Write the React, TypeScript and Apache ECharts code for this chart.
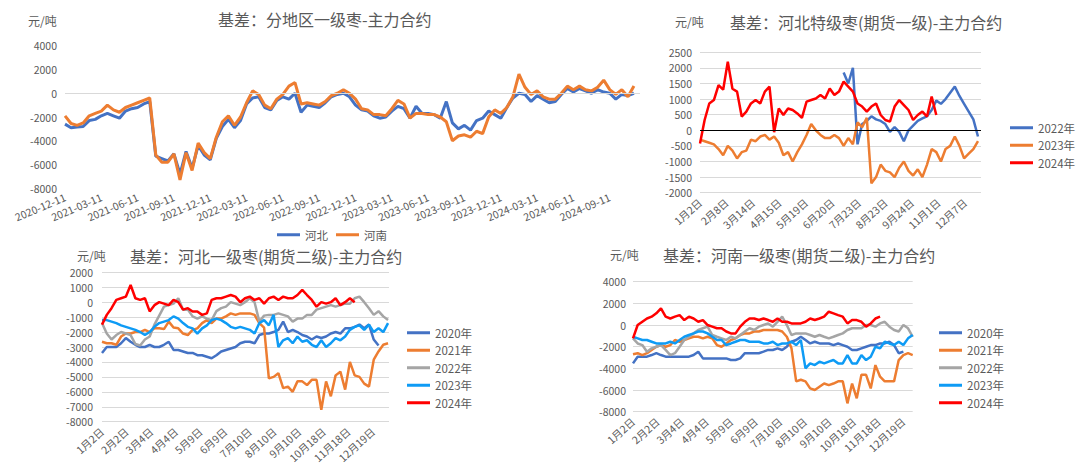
import React, { useEffect, useRef } from 'react';
import * as echarts from 'echarts';

const FONT = '"Noto Sans CJK SC", "Noto Sans", sans-serif';
const TXT = '#595959';
const GRID_C = '#D9D9D9';
const BLUE = '#4472C4';
const ORANGE = '#ED7D31';
const GRAY = '#A5A5A5';
const LBLUE = '#0E9BF5';
const RED = '#FF0000';

// ---------- Chart 1: 基差：分地区一级枣-主力合约 (half-month samples) ----------
const C1_TICKS = ['2020-12-11', '2021-03-11', '2021-06-11', '2021-09-11', '2021-12-11', '2022-03-11', '2022-06-11', '2022-09-11', '2022-12-11', '2023-03-11', '2023-06-11', '2023-09-11', '2023-12-11', '2024-03-11', '2024-06-11', '2024-09-11'];
const C1_HEBEI = [
  -2600, -2900, -2850, -2800, -2300, -2200, -1900, -1700, -1900, -2100,
  -1500, -1300, -1200, -900, -700, -5300, -5500, -5700, -5100, -6800,
  -4900, -6300, -4400, -5200, -5600, -3800, -2800, -2200, -2900, -2300,
  -900, -400, -300, -1200, -1400, -600, -300, -500, 0, -1600,
  -1000, -1100, -1200, -800, -300, -100, 0, -300, -1000, -1400,
  -1500, -1900, -2100, -2000, -1500, -1100, -1300, -2100, -1100, -1700,
  -1700, -1800, -2100, -700, -2500, -3000, -2700, -3100, -2300, -2100,
  -1500, -1800, -2100, -1200, -400, 0, -100, -700, -200, -500,
  -800, -700, -100, 400, 100, 400, 200, 0, 300, 100,
  0, -500, -100, -200, 0,
];
const C1_HENAN = [
  -1900, -2550, -2700, -2500, -1900, -1700, -1500, -1000, -1400, -1600,
  -1200, -1000, -800, -600, -400, -5200, -5800, -5800, -5100, -7300,
  -5000, -6500, -4200, -5000, -5500, -3700, -2400, -1900, -2700, -2000,
  -800, 200, -100, -1000, -1300, -500, -100, 600, 900, -900,
  -800, -900, -1000, -700, -200, 0, 300, 0, -500, -1300,
  -1400, -1800, -1800, -1900, -1300, -600, -900, -2100, -1700, -1700,
  -1800, -1800, -2000, -2400, -4000, -3600, -3500, -3700, -3200, -3400,
  -2000, -1400, -1700, -1200, -300, 1600, 500, -100, 200, -300,
  -500, -500, 0, 600, 300, 600, 300, 200, 500, 1100,
  300, -100, 300, -300, 600,
];

// ---------- Chart 2: 河北特级枣(期货一级) (one sample per ~4 trading days) ----------
const C2_TICKS = ['1月2日', '2月8日', '3月14日', '4月15日', '5月19日', '6月20日', '7月23日', '8月23日', '9月24日', '11月1日', '12月7日'];
const C2_2022_START = 31;
const C2_2022 = [1850, 1500, 2000, -450, 200, 300, 450, 350, 300, 200, -50, 100, -50, -350, 0, 150, 300, 380, 450, 650, 950, 850, 1000, 1200, 1400, 1100, 850, 600, 350, -200];
const C2_2023 = [
  -300, -350, -400, -450, -600, -800, -500, -650, -900, -700,
  -650, -300, -350, -200, -150, -300, -200, -400, -800, -700,
  -1000, -700, -450, -150, 200, 0, -150, -250, -250, -150,
  -250, -500, -250, -450, 250, 100, 400, -1700, -1500, -1100,
  -1300, -1350, -1500, -1200, -1000, -1300, -1450, -1250, -1500, -1100,
  -600, -700, -1000, -600, -500, -200, -500, -900, -750, -600,
  -350,
];
const C2_2024 = [
  -420, 330, 860, 970, 1450, 1300, 2200, 1330, 1240, 440,
  600, 860, 970, 860, 1240, 1400, -60, 700, 490, 700,
  650, 540, 400, 920, 970, 1020, 1130, 1020, 1340, 1130,
  1240, 1560, 1400, 1240, 860, 760, 600, 760, 860, 490,
  330, 280, 760, 970, 810, 650, 330, 490, 600, 440,
  1080, 490,
];

// ---------- Chart 3 / 4 shared tick labels ----------
const C34_TICKS = ['1月2日', '2月2日', '3月4日', '4月4日', '5月9日', '6月9日', '7月10日', '8月10日', '9月10日', '10月18日', '11月18日', '12月19日'];

// ---------- Chart 3: 河北一级枣(期货二级) ----------
const C3_2020 = [
  -3400, -3000, -3000, -3000, -2750, -2400, -2650, -2850, -3000, -3000,
  -2850, -3000, -3000, -2850, -2650, -3200, -3200, -3300, -3400, -3400,
  -3550, -3550, -3650, -3750, -3550, -3300, -3200, -3100, -3000, -2750,
  -2650, -2650, -2750, -2200, -2100, -2100, -2000, -1850, -1300, -2000,
  -1850, -2000, -2200, -2300, -2500, -2300, -2400, -2300, -2100, -2000,
  -2100, -1750, -1750, -1650, -1500, -1750, -1500, -2500, -2900,
];
const C3_2021 = [
  -2650, -2750, -2750, -2850, -2300, -2100, -2100, -2000, -2000, -1850,
  -2000, -1750, -1750, -1800, -1300, -1700, -1750, -2100, -2200, -1850,
  -1750, -1400, -1200, -1400, -1100, -1100, -950, -750, -850, -750,
  -750, -750, -850, -1400, -1700, -5100, -5000, -4750, -5750, -5650,
  -6000, -5300, -5300, -5550, -5200, -5200, -7200, -5300, -6300, -4900,
  -4650, -5850, -4000, -4900, -5000, -5450, -5650, -3850, -3300, -2850,
  -2750,
];
const C3_2022 = [
  -1400, -2100, -2500, -2200, -2000, -2100, -2200, -2800, -2900, -2500,
  -2300, -1500, -900, -300, -200, -100, 260, -500, -500, -950,
  -1100, -950, -1100, -1200, -600, -400, -300, 0, -100, -200,
  0, 260, 0, -1300, -900, -850, -850, -750, -850, -950,
  -1300, -1100, -1100, -850, -850, -500, -400, -300, -200, -300,
  -200, -100, -100, 260, 370, 0, -400, -850, -600, -950,
  -1200,
];
const C3_2023 = [
  -1200, -1200, -1300, -1400, -1550, -1650, -1750, -1850, -2000, -2200,
  -2000, -1650, -1400, -1300, -1200, -950, -1100, -1400, -1650, -1750,
  -2100, -1750, -1550, -1200, -1100, -1200, -1400, -1650, -1750, -1650,
  -1750, -1850, -2100, -1400, -1200, -1550, -850, -3000, -2550, -2400,
  -2750, -2300, -2650, -2550, -2850, -3000, -2550, -3000, -2750, -2400,
  -2550, -2300, -1850, -1650, -1550, -1850, -1500, -2000, -1750, -2000,
  -1400,
];
const C3_2024 = [
  -1500, -850, -400, 150, 260, 370, 1150, 260, 150, 260,
  -620, -200, 0, -100, -200, 150, 0, -500, -400, -620,
  -620, -850, -750, 150, 260, 260, 370, 480, 370, 0,
  260, 370, 150, 260, -100, 260, 370, 150, 370, 260,
  260, 480, 820, 480, 150, -300, 0, -100, 0, 260,
  -200, 0, 260, 0,
];

// ---------- Chart 4: 河南一级枣(期货二级) ----------
const C4_2020 = [
  -3540, -2920, -2920, -2920, -2770, -2600, -2770, -2920, -2920, -2920,
  -2920, -2920, -2920, -2770, -2460, -3080, -3080, -3080, -3080, -3080,
  -3080, -3230, -3230, -3080, -2600, -2600, -2600, -2600, -2460, -2300,
  -2300, -2150, -2300, -2000, -1540, -1380, -1080, -1380, -1700, -1540,
  -1700, -1700, -1700, -1850, -1700, -1850, -2000, -2300, -2300, -2150,
  -2000, -1850, -1850, -1700, -1700, -1540, -1850, -2600, -2460,
];
const C4_2021 = [
  -2700, -2600, -2770, -2600, -2300, -2000, -1850, -2000, -1850, -1380,
  -1540, -1380, -1230, -1080, -1080, -1230, -1080, -1230, -1850, -2000,
  -1700, -1380, -1230, -920, -770, -770, -600, -600, -460, -460,
  -460, -460, -600, -1080, -2150, -5200, -5050, -5200, -5850, -6000,
  -5700, -5400, -5550, -5400, -5200, -5200, -7230, -5400, -6770, -4600,
  -4600, -5850, -3700, -4770, -5200, -5200, -5200, -3230, -2770, -2600,
  -2770,
];
const C4_2022 = [
  -1230, -1700, -1850, -2460, -2150, -2000, -1850, -2300, -2770, -2600,
  -2000, -1380, -1080, -770, -460, -300, -150, -920, -1080, -1230,
  -1380, -1080, -1230, -920, -600, -300, -460, -150, 0, 150,
  -150, 300, 770, 0, -920, -770, -770, -770, -920, -1080,
  -920, -1080, -1230, -1080, -920, -770, -460, -300, -300, -300,
  0, 0, -150, 150, 300, -150, -460, -600, 0, -300,
  -1080,
];
const C4_2023 = [
  -1080, -1230, -1380, -1380, -1540, -1700, -1700, -1700, -1540, -1700,
  -1380, -1080, -920, -770, -600, -600, -770, -1080, -1380, -1380,
  -1850, -1700, -1540, -1380, -1380, -1540, -1540, -1540, -1700, -1700,
  -1540, -1850, -1700, -1700, -1540, -1850, -1380, -4000, -3540, -3700,
  -3380, -3540, -3380, -3230, -3540, -3540, -2770, -3540, -3540, -2770,
  -3230, -2920, -2000, -2150, -1540, -1700, -1850, -1540, -1850, -1230,
  -920,
];
const C4_2024 = [
  -1230, 0, 300, 600, 770, 1080, 1540, 770, 600, 770,
  920, 460, 770, 600, 300, 460, 0, -150, -300, -300,
  -600, -770, -770, -150, 300, 600, 600, 460, 600, 460,
  300, 600, 300, 300, 150, 150, 150, 300, 600, 460,
  600, 770, 1230, 1080, 920, 770, 150, 460, 460, 300,
  -150, 150, 600, 770,
];

const YEARS5 = ['2020年', '2021年', '2022年', '2023年', '2024年'];
const YEARS3 = ['2022年', '2023年', '2024年'];

const axisText = { color: TXT, fontFamily: FONT, fontSize: 10.5 };

function xValueAxis(max: number, interval: number, ticks: string[], rotate: number, margin: number) {
  return {
    type: 'value', min: 0, max, interval,
    axisLine: { show: false }, axisTick: { show: false }, splitLine: { show: false },
    axisLabel: {
      ...axisText, rotate, margin, showMaxLabel: false, showMinLabel: true,
      formatter: (v: number) => {
        const r = v / interval;
        const j = Math.round(r);
        return Math.abs(r - j) < 1e-3 ? (ticks[j] ?? '') : '';
      },
    },
  };
}

function yValueAxis(min: number, max: number, interval: number, split: boolean, margin: number) {
  return {
    type: 'value', min, max, interval,
    axisLine: { show: false }, axisTick: { show: false },
    splitLine: { show: split, lineStyle: { color: GRID_C, width: 1 } },
    axisLabel: { ...axisText, margin, formatter: (v: number) => String(Math.round(v)) },
  };
}

function zeroLine(color: string, width: number) {
  return {
    silent: true, symbol: ['none', 'none'], label: { show: false },
    lineStyle: { color, width, type: 'solid' }, emphasis: { disabled: true },
    data: [{ yAxis: 0 }],
  };
}

function lineSeries(name: string, color: string, values: number[], start: number, width: number, extra: any = {}) {
  return {
    type: 'line', name, data: values.map((v, i) => [i + start, v]),
    symbol: 'none', showSymbol: false, lineStyle: { color, width }, itemStyle: { color },
    emphasis: { disabled: true }, ...extra,
  };
}

function titleAt(text: string, left: number, top: number) {
  return { text, left, top, padding: 0, textStyle: { fontFamily: FONT, fontSize: 16, fontWeight: 'normal', color: TXT } };
}

function unitAt(left: number, top: number) {
  return { type: 'text', left, top, style: { text: '元/吨', fill: TXT, font: `12px ${FONT}` } };
}

function legendAt(left: number, top: number, names: string[], vertical: boolean, gap: number) {
  return {
    left, top, orient: vertical ? 'vertical' : 'horizontal', padding: 0,
    icon: 'rect', itemWidth: 23, itemHeight: 3, itemGap: gap, data: names,
    textStyle: { fontFamily: FONT, fontSize: 11.5, color: TXT },
  };
}

function buildOptions(): any[] {
  const o1 = {
    animation: false,
    title: titleAt('基差：分地区一级枣-主力合约', 218, 11),
    graphic: [unitAt(28, 14)],
    grid: { left: 65, top: 45.7, width: 575, height: 142.6 },
    xAxis: xValueAxis(95, 6, C1_TICKS, 23, 8),
    yAxis: yValueAxis(-8000, 4000, 2000, false, 8),
    legend: legendAt(277, 229, ['河北', '河南'], false, 8),
    series: [
      lineSeries('河北', BLUE, C1_HEBEI, 0, 3, { markLine: zeroLine(GRID_C, 1) }),
      lineSeries('河南', ORANGE, C1_HENAN, 0, 3),
    ],
  };
  const o2 = {
    animation: false,
    title: titleAt('基差：河北特级枣(期货一级)-主力合约', 730, 14),
    graphic: [unitAt(675, 15)],
    grid: { left: 700, top: 52.3, width: 281, height: 140.4 },
    xAxis: xValueAxis(60.65, 5.72, C2_TICKS, 42, 8),
    yAxis: yValueAxis(-2000, 2500, 500, true, 8),
    legend: legendAt(1010, 122, YEARS3, true, 6),
    series: [
      lineSeries('2022年', BLUE, C2_2022, C2_2022_START, 2.5, { markLine: zeroLine('#000000', 1.2) }),
      lineSeries('2023年', ORANGE, C2_2023, 0, 2.5),
      lineSeries('2024年', RED, C2_2024, 0, 2.5),
    ],
  };
  const o3 = {
    animation: false,
    title: titleAt('基差：河北一级枣(期货二级)-主力合约', 130, 248),
    graphic: [unitAt(77, 249)],
    grid: { left: 102, top: 272.3, width: 287, height: 149.4 },
    xAxis: xValueAxis(60.2, 5.17, C34_TICKS, 42, 8),
    yAxis: yValueAxis(-8000, 2000, 1000, true, 9),
    legend: legendAt(407, 327, YEARS5, true, 6),
    series: [
      lineSeries('2020年', BLUE, C3_2020, 0, 2.5),
      lineSeries('2021年', ORANGE, C3_2021, 0, 2.5),
      lineSeries('2022年', GRAY, C3_2022, 0, 2.5),
      lineSeries('2023年', LBLUE, C3_2023, 0, 2.5),
      lineSeries('2024年', RED, C3_2024, 0, 2.5),
    ],
  };
  const o4 = {
    animation: false,
    title: titleAt('基差：河南一级枣(期货二级)-主力合约', 663, 247),
    graphic: [unitAt(610, 248)],
    grid: { left: 633, top: 281.7, width: 279.7, height: 130 },
    xAxis: xValueAxis(60.0, 5.27, C34_TICKS, 42, 8),
    yAxis: yValueAxis(-8000, 4000, 2000, true, 7),
    legend: legendAt(939, 327, YEARS5, true, 6),
    series: [
      lineSeries('2020年', BLUE, C4_2020, 0, 2.5),
      lineSeries('2021年', ORANGE, C4_2021, 0, 2.5),
      lineSeries('2022年', GRAY, C4_2022, 0, 2.5),
      lineSeries('2023年', LBLUE, C4_2023, 0, 2.5),
      lineSeries('2024年', RED, C4_2024, 0, 2.5),
    ],
  };
  return [o1, o2, o3, o4];
}

export default function App() {
  const r1 = useRef<HTMLDivElement>(null);
  const r2 = useRef<HTMLDivElement>(null);
  const r3 = useRef<HTMLDivElement>(null);
  const r4 = useRef<HTMLDivElement>(null);

  useEffect(() => {
    const opts = buildOptions();
    const refs = [r1, r2, r3, r4];
    const charts = refs.map((r, i) => {
      const c = echarts.init(r.current as HTMLDivElement, undefined, { renderer: 'svg', width: 1080, height: 470 });
      c.setOption(opts[i]);
      return c;
    });
    return () => charts.forEach((c) => c.dispose());
  }, []);

  const layer: React.CSSProperties = { position: 'absolute', left: 0, top: 0, width: 1080, height: 470 };
  return (
    <div style={{ position: 'absolute', left: 0, top: 0, width: 1080, height: 470, background: '#ffffff', overflow: 'hidden' }}>
      <div ref={r1} style={layer} />
      <div ref={r2} style={layer} />
      <div ref={r3} style={layer} />
      <div ref={r4} style={layer} />
    </div>
  );
}
